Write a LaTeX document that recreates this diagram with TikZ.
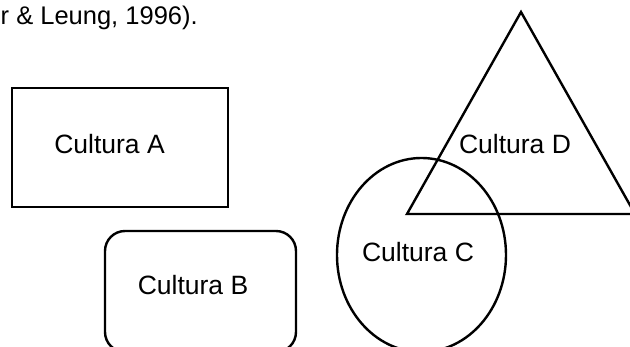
\documentclass[tikz,border=0pt]{standalone}
\usepackage{fontspec}
\setmainfont{Liberation Sans}
\begin{document}
\begin{tikzpicture}[x=1pt,y=-1pt,
  outline/.style={draw=black,line width=2.4pt,line join=miter},
  lbl/.style={inner sep=0pt,anchor=base,font=\fontsize{26.5}{31}\selectfont}]
  \clip (0,0) rectangle (630,347);
  % culture shapes
  \draw[outline] (12,88) rectangle (228,207);
  \draw[outline,rounded corners=20pt] (105,231) rectangle (296,352);
  \draw[outline] (421.5,255) ellipse [x radius=84.5, y radius=97];
  \draw[outline] (521,12) -- (407,214) -- (635,214) -- cycle;
  % labels
  \node[lbl] (ca) at (109.5,154) {Cultura A};
  \node[lbl] (cb) at (193,295) {Cultura B};
  \node[lbl] (cc) at (418,262) {Cultura C};
  \node[lbl] (cd) at (515,154) {Cultura D};
  \node[lbl,anchor=base west,font=\fontsize{25.5}{30}\selectfont] (ref) at (0.5,25) {r \& Leung, 1996).};
\end{tikzpicture}
\end{document}
